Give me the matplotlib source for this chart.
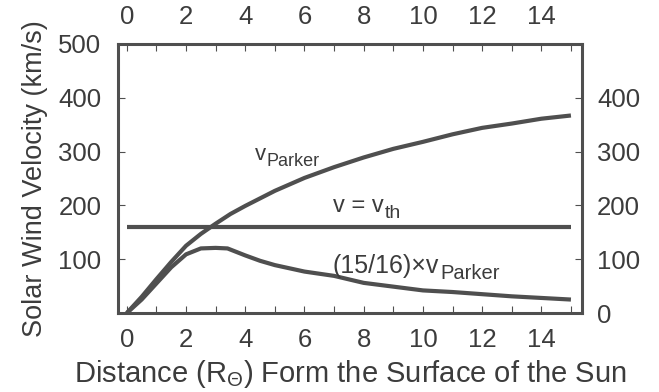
"""Solar wind velocity profiles versus distance from the solar surface."""

import matplotlib
matplotlib.use('Agg')
import matplotlib.pyplot as plt
from matplotlib.ticker import MultipleLocator

plt.rcParams['font.family'] = ['Liberation Sans', 'DejaVu Sans']
plt.rcParams['mathtext.fontset'] = 'custom'
plt.rcParams['mathtext.rm'] = 'Liberation Sans'
plt.rcParams['mathtext.it'] = 'Liberation Sans'

# values
parker_x = [0, 0.5, 1, 1.5, 2, 2.5, 3, 3.5, 4, 4.5, 5, 6, 7, 8, 9, 10, 11, 12, 13, 14, 15]
parker_v = [0, 30, 63, 95, 125, 147, 166, 184, 199, 213, 227, 251, 271, 289, 305, 318, 332, 344, 352, 361, 367]

reduced_x = [0, 0.5, 1, 1.5, 2, 2.5, 3, 3.4, 4, 4.5, 5, 6, 7, 8, 9, 10, 11, 12, 13, 14, 15]
reduced_v = [0, 25, 55, 85, 109, 120, 121, 120, 107, 97, 89, 77, 69, 56, 49, 42, 39, 35, 31, 28, 25]

vth_x = [0, 15]
vth_v = [160, 160]

left_ticks = [100, 200, 300, 400, 500]
right_ticks = [0, 100, 200, 300, 400]
x_ticks = [0, 2, 4, 6, 8, 10, 12, 14]

LINE = '#4f4f4f'
TEXT = '#3c3c3c'


def label_with_sub(ax, x, y, main, sub, size, sub_size, drop=3.5, gap=0.5):
    """Write a symbol followed by a large subscript (mathtext ones are too small)."""
    t = ax.text(x, y, main, fontsize=size, color=TEXT, va='baseline')
    ax.annotate(sub, xy=(1, 0), xycoords=t, xytext=(gap, -drop),
                textcoords='offset points', fontsize=sub_size, color=TEXT, va='bottom')


fig = plt.figure(figsize=(6.59, 3.92), dpi=100)
ax = fig.add_axes([0.179, 0.2015, 0.704, 0.6865])

ax.plot(parker_x, parker_v, color=LINE, lw=3.0, solid_capstyle='butt')
ax.plot(reduced_x, reduced_v, color=LINE, lw=3.0, solid_capstyle='butt')
ax.plot(vth_x, vth_v, color=LINE, lw=3.0, solid_capstyle='butt')

ax.set_xlim(-0.3, 15.37)
ax.set_ylim(0, 500)
ax.set_xticks(x_ticks)
ax.xaxis.set_minor_locator(MultipleLocator(1))
ax.set_yticks(left_ticks)

for s in ax.spines.values():
    s.set_linewidth(2.2)
    s.set_color(LINE)

ax.tick_params(axis='x', which='both', direction='in', top=True, labeltop=True,
               length=5, width=0.8, color=LINE, labelsize=18.5, labelcolor=TEXT, pad=11)
ax.tick_params(axis='y', which='both', direction='in', length=5, width=0.8,
               color=LINE, labelsize=18.5, labelcolor=TEXT, pad=12)

ax2 = ax.twinx()
ax2.set_ylim(0, 500)
ax2.set_yticks(right_ticks)
ax2.tick_params(axis='y', direction='in', length=5, width=0.8, color=LINE,
                labelsize=18.5, labelcolor=TEXT, pad=11)
for s in ax2.spines.values():
    s.set_visible(False)

ax.set_xlabel(r'Distance (R$_{\Theta}$) Form the Surface of the Sun',
              fontsize=21, color=TEXT, labelpad=4)
ax.set_ylabel('Solar Wind Velocity (km/s)', fontsize=19.5, color=TEXT, labelpad=7)

label_with_sub(ax, 4.32, 284, 'v', 'Parker', 16, 13, drop=3.5, gap=0.5)
label_with_sub(ax, 6.96, 188, 'v = v', 'th', 17, 14, drop=3.5, gap=0.5)
label_with_sub(ax, 6.96, 74, '(15/16)\u00d7v', 'Parker', 18, 14.5, drop=3.5, gap=1)

fig.savefig('out.png', dpi=100)
